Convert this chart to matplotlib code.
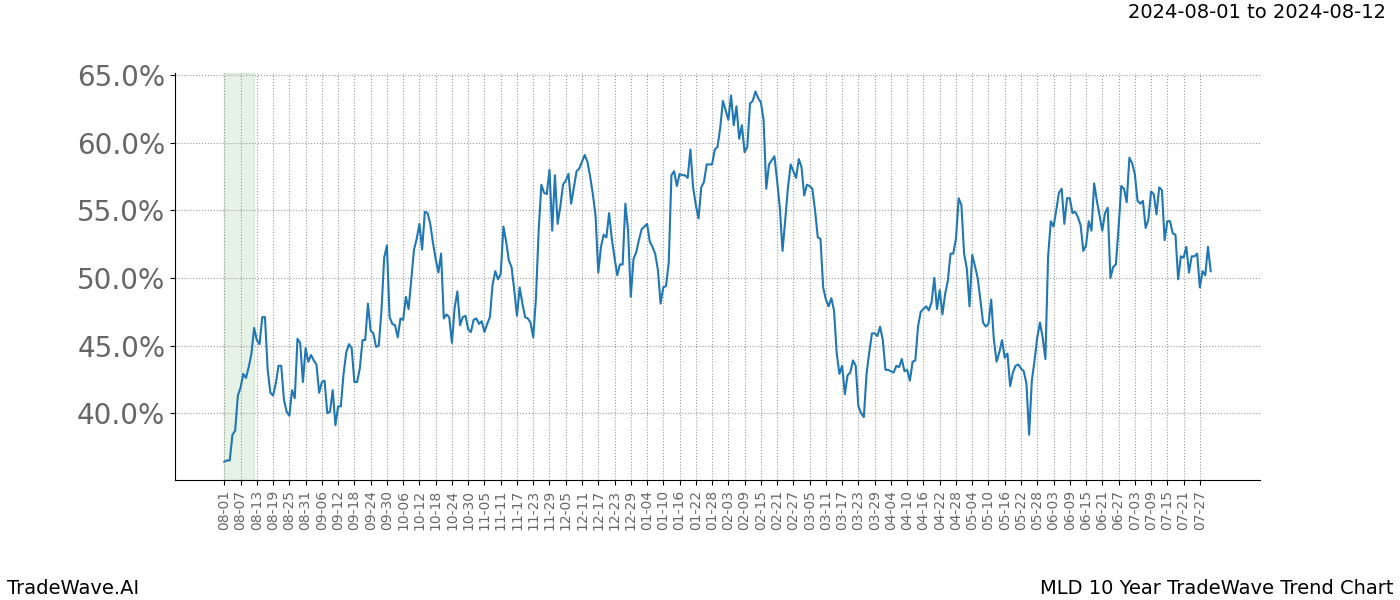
import matplotlib
matplotlib.use("Agg")
import matplotlib.pyplot as plt
import matplotlib.dates as mdates
from matplotlib.ticker import FuncFormatter
import pandas as pd

# daily values (percent), 2024-08-01 .. 2025-07-31
start_date = "2024-08-01"
values = [
    36.4, 36.5, 36.5, 38.4, 38.7, 41.3, 41.9, 42.9, 42.6, 43.4,
    44.4, 46.3, 45.4, 45.1, 47.1, 47.1, 43.2, 41.5, 41.3, 42.2,
    43.5, 43.5, 41.0, 40.1, 39.8, 41.7, 41.1, 45.5, 45.2, 42.3,
    44.8, 43.8, 44.3, 43.9, 43.6, 41.5, 42.3, 42.4, 40.0, 40.1,
    41.7, 39.1, 40.5, 40.5, 42.9, 44.5, 45.1, 44.8, 42.3, 42.3,
    43.3, 45.4, 45.4, 48.1, 46.1, 45.9, 44.9, 45.0, 47.6, 51.5,
    52.4, 47.1, 46.6, 46.5, 45.6, 47.0, 46.9, 48.6, 47.7, 49.9,
    52.1, 52.9, 54.0, 52.1, 54.9, 54.8, 54.0, 52.6, 51.4, 50.4,
    51.8, 47.0, 47.3, 47.1, 45.2, 47.8, 49.0, 46.5, 47.1, 47.2,
    46.2, 46.0, 46.9, 47.0, 46.6, 46.8, 46.0, 46.6, 47.1, 49.5,
    50.5, 49.9, 50.3, 53.8, 52.7, 51.3, 50.8, 49.1, 47.2, 49.3,
    48.1, 47.1, 47.0, 46.7, 45.6, 48.5, 53.5, 56.9, 56.3, 56.2,
    58.0, 53.5, 57.6, 54.0, 55.3, 56.9, 57.2, 57.7, 55.5, 56.7,
    57.9, 58.1, 58.6, 59.1, 58.6, 57.5, 56.2, 54.6, 50.4, 52.3,
    53.2, 53.0, 54.8, 52.9, 51.5, 50.2, 51.0, 51.0, 55.5, 53.5,
    48.6, 51.4, 51.9, 52.8, 53.6, 53.8, 54.0, 52.7, 52.3, 51.8,
    50.6, 48.1, 49.3, 49.4, 51.1, 57.6, 57.9, 56.8, 57.7, 57.6,
    57.6, 57.4, 59.5, 56.7, 55.4, 54.4, 56.7, 57.1, 58.4, 58.4,
    58.4, 59.5, 59.7, 61.1, 63.1, 62.4, 61.7, 63.5, 61.3, 62.7,
    60.3, 61.3, 59.3, 59.7, 62.9, 63.1, 63.8, 63.3, 63.0, 61.7,
    56.6, 58.4, 58.7, 59.0, 57.2, 55.2, 52.0, 54.3, 56.7, 58.4,
    57.9, 57.4, 58.8, 58.2, 56.1, 56.9, 56.8, 56.6, 55.0, 53.0,
    52.9, 49.3, 48.4, 47.9, 48.5, 47.6, 44.4, 42.9, 43.5, 41.4,
    42.8, 43.0, 43.9, 43.5, 40.5, 40.0, 39.7, 42.9, 44.5, 45.9,
    45.9, 45.7, 46.4, 45.4, 43.2, 43.2, 43.1, 43.0, 43.5, 43.4,
    44.0, 43.1, 43.2, 42.4, 43.8, 43.9, 46.4, 47.5, 47.7, 47.9,
    47.6, 48.2, 50.0, 47.7, 49.1, 47.3, 48.8, 49.8, 51.8, 51.8,
    52.9, 55.9, 55.4, 51.8, 50.7, 47.9, 51.7, 50.9, 50.0, 48.4,
    46.7, 46.4, 46.6, 48.4, 45.4, 43.8, 44.5, 45.4, 44.1, 44.4,
    42.0, 43.0, 43.5, 43.6, 43.3, 43.1, 42.2, 38.4, 42.4, 43.9,
    45.6, 46.7, 45.6, 44.0, 51.6, 54.2, 53.8, 55.0, 56.3, 56.6,
    54.0, 55.9, 55.9, 54.8, 54.9, 54.5, 53.9, 52.0, 52.4, 54.2,
    53.5, 57.0, 55.7, 54.6, 53.5, 54.8, 55.2, 50.0, 50.8, 51.0,
    53.7, 56.8, 56.6, 55.6, 58.9, 58.5, 57.7, 55.7, 55.5, 55.7,
    53.7, 54.3, 56.4, 56.2, 54.7, 56.7, 56.5, 52.8, 54.2, 54.2,
    53.3, 53.2, 49.9, 51.6, 51.5, 52.3, 50.4, 51.6, 51.6, 51.8,
    49.3, 50.5, 50.2, 52.3, 50.5,
]
highlight = ("2024-08-01", "2024-08-12")
tick_start, tick_end = "2024-08-01", "2025-07-27"
y_ticks = [40, 45, 50, 55, 60, 65]

dates = pd.date_range(start_date, periods=len(values), freq="D")

fig = plt.figure(figsize=(14, 6), dpi=100)
ax = fig.add_axes([0.125, 0.2, 0.775, 0.678])

ax.axvspan(pd.Timestamp(highlight[0]), pd.Timestamp(highlight[1]), color="green", alpha=0.1)
ax.plot(dates, values, color="#1f77b4", linewidth=1.5)

ax.set_xticks(pd.date_range(tick_start, tick_end, freq="6D"))
ax.xaxis.set_major_formatter(mdates.DateFormatter("%m-%d"))
ax.tick_params(axis="x", labelrotation=90, labelsize=10, labelcolor="#666666")
ax.set_yticks(y_ticks)
ax.yaxis.set_major_formatter(FuncFormatter(lambda v, p: "%.1f%%" % v))
ax.tick_params(axis="y", labelsize=20, labelcolor="#666666")
ax.set_ylim(35.05, 65.15)

ax.grid(True, linestyle=":", color="#999999", linewidth=0.8)
ax.spines["top"].set_visible(False)
ax.spines["right"].set_visible(False)

fig.text(0.99, 0.98, "2024-08-01 to 2024-08-12", ha="right", va="center", fontsize=14)
fig.text(0.005, 0.02, "TradeWave.AI", ha="left", va="center", fontsize=14)
fig.text(0.995, 0.02, "MLD 10 Year TradeWave Trend Chart", ha="right", va="center", fontsize=14)

fig.savefig("out.png")
